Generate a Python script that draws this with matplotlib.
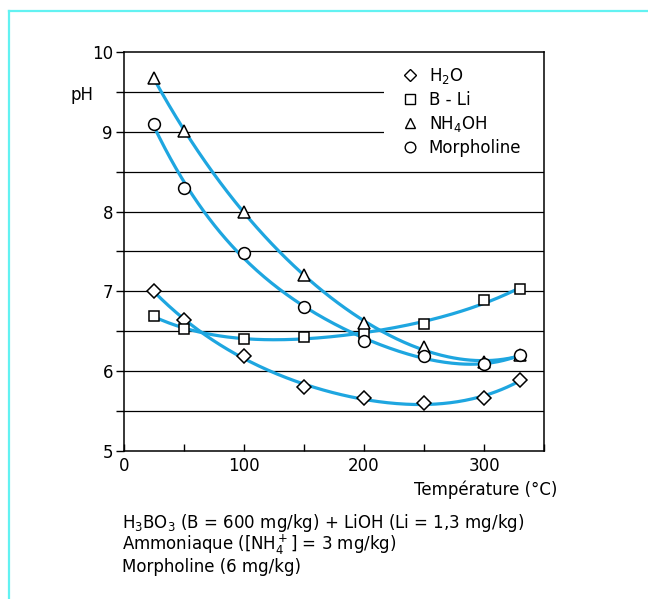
import numpy as np
import matplotlib
matplotlib.use("Agg")
import matplotlib.pyplot as plt
from matplotlib.lines import Line2D
from matplotlib.patches import Rectangle

plt.rcParams['font.family'] = ['DejaVu Sans']
plt.rcParams['mathtext.fontset'] = 'dejavusans'

# temperatures (degC) and pH values
temp = [25, 50, 100, 150, 200, 250, 300, 330]
ph_h2o = [7.00, 6.64, 6.19, 5.80, 5.66, 5.60, 5.67, 5.89]
ph_bli = [6.69, 6.53, 6.40, 6.43, 6.48, 6.59, 6.89, 7.03]
ph_nh4oh = [9.67, 9.01, 8.00, 7.21, 6.60, 6.30, 6.11, 6.20]
ph_morph = [9.10, 8.30, 7.48, 6.80, 6.38, 6.19, 6.09, 6.20]

labels = ['H$_2$O', 'B - Li', 'NH$_4$OH', 'Morpholine']
markers = ['D', 's', '^', 'o']
msizes = [7, 7.5, 8, 8.5]
series = [ph_h2o, ph_bli, ph_nh4oh, ph_morph]

curve_col = '#1ea6e0'
fs = 12

fig = plt.figure(figsize=(6.48, 5.99), dpi=100)
ax = fig.add_axes([124/648, 1-451/599, 420/648, 399/599])

# smooth fitted curves, then the measured points on top
xs = np.linspace(temp[0], temp[-1], 200)
for ys in series:
    coef = np.polyfit(temp, ys, 4)
    ax.plot(xs, np.polyval(coef, xs), color=curve_col, lw=2.3, zorder=2)
for ys, m, ms in zip(series, markers, msizes):
    ax.plot(temp, ys, ls='none', marker=m, ms=ms, mfc='white', mec='black',
            mew=1.1, zorder=4)

ax.set_xlim(0, 350)
ax.set_ylim(5, 10)
for y in np.arange(5.5, 10, 0.5):
    ax.axhline(y, color='black', lw=0.9, zorder=1)

# white box behind the legend hides the top grid lines
ax.add_patch(Rectangle((217, 8.75), 133, 1.2, facecolor='white',
                       edgecolor='none', zorder=1.5))

ax.set_xticks([0, 100, 200, 300])
ax.set_xticks([50, 150, 250, 350], minor=True)
ax.set_yticks([5, 6, 7, 8, 9, 10])
ax.set_yticks(np.arange(5.5, 10, 1.0), minor=True)
ax.tick_params(axis='x', which='both', direction='in', length=5, width=1,
               labelsize=fs, pad=4)
ax.tick_params(axis='y', which='both', direction='out', length=6, width=1,
               labelsize=fs, pad=2)
for sp in ax.spines.values():
    sp.set_linewidth(1.1)

fig.text(70/648, 1-95/599, 'pH', fontsize=fs, va='center', ha='left')
fig.text(557/648, 1-490/599, 'Température (°C)', fontsize=fs,
         va='center', ha='right')

handles = [Line2D([], [], ls='none', marker=m, ms=ms*0.9, mfc='white',
                  mec='black', mew=1.0) for m, ms in zip(markers, msizes)]
leg = ax.legend(handles, labels, loc='upper left',
                bbox_to_anchor=(278/420, 1-14/399), frameon=False,
                fontsize=fs, handlelength=1.0, handletextpad=0.6,
                labelspacing=0.3, borderpad=0.0, borderaxespad=0.0)
leg.set_zorder(3)

notes = ['H$_3$BO$_3$ (B = 600 mg/kg) + LiOH (Li = 1,3 mg/kg)',
         'Ammoniaque ([NH$_4^+$] = 3 mg/kg)',
         'Morpholine (6 mg/kg)']
for i, t in enumerate(notes):
    fig.text(122/648, 1-(523+i*22)/599, t, fontsize=fs, va='center',
             ha='left')

# light cyan frame on left and top
frame = '#62f2f2'
fig.add_artist(Line2D([9/648, 9/648], [0, 1-11/599], color=frame, lw=1.6,
                      transform=fig.transFigure))
fig.add_artist(Line2D([9/648, 1], [1-11/599, 1-11/599], color=frame, lw=1.6,
                      transform=fig.transFigure))

fig.savefig('out.png', dpi=100)
